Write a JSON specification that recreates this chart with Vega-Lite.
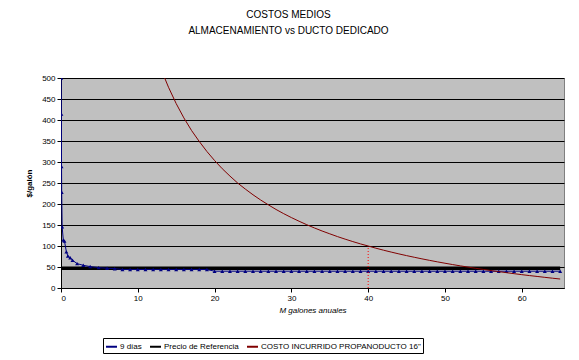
{
  "$schema": "https://vega.github.io/schema/vega-lite/v6.json",
  "autosize": "none",
  "width": 503,
  "height": 210,
  "padding": {"left": 61, "top": 78, "right": 15, "bottom": 72},
  "background": "white",
  "title": {
    "text": ["COSTOS MEDIOS", "ALMACENAMIENTO vs DUCTO DEDICADO"],
    "font": "Liberation Sans",
    "fontSize": 10,
    "fontWeight": "normal",
    "lineHeight": 16,
    "offset": 38,
    "dx": -24,
    "color": "black"
  },
  "config": {
    "view": {"fill": "#c0c0c0", "stroke": "#808080", "strokeWidth": 1},
    "axis": {
      "labelFont": "Liberation Sans",
      "labelFontSize": 8,
      "labelColor": "black",
      "titleFont": "Liberation Sans",
      "titleColor": "black",
      "domainColor": "black",
      "tickColor": "black",
      "tickSize": 4
    },
    "legend": {
      "labelFont": "Liberation Sans",
      "labelFontSize": 8,
      "labelColor": "black"
    }
  },
  "data": {
    "values": [
      {"serie": "Precio de Referencia", "x": 0, "y": 47},
      {"serie": "Precio de Referencia", "x": 65, "y": 47},

      {"serie": "9 días", "x": 0.02, "y": 500},
      {"serie": "9 días", "x": 0.05, "y": 414},
      {"serie": "9 días", "x": 0.07, "y": 289},
      {"serie": "9 días", "x": 0.09, "y": 228},
      {"serie": "9 días", "x": 0.15, "y": 146},
      {"serie": "9 días", "x": 0.3, "y": 114},
      {"serie": "9 días", "x": 0.45, "y": 112},
      {"serie": "9 días", "x": 0.7, "y": 86},
      {"serie": "9 días", "x": 0.9, "y": 76},
      {"serie": "9 días", "x": 1.2, "y": 72},
      {"serie": "9 días", "x": 1.5, "y": 66},
      {"serie": "9 días", "x": 2.1, "y": 58},
      {"serie": "9 días", "x": 2.9, "y": 54},
      {"serie": "9 días", "x": 3.8, "y": 51},
      {"serie": "9 días", "x": 4.9, "y": 48.5},
      {"serie": "9 días", "x": 6, "y": 47},
      {"serie": "9 días", "x": 7, "y": 46},
      {"serie": "9 días", "x": 8, "y": 44},
      {"serie": "9 días", "x": 9, "y": 44},
      {"serie": "9 días", "x": 10, "y": 44},
      {"serie": "9 días", "x": 11, "y": 44},
      {"serie": "9 días", "x": 12, "y": 44},
      {"serie": "9 días", "x": 13, "y": 44},
      {"serie": "9 días", "x": 14, "y": 44},
      {"serie": "9 días", "x": 15, "y": 44},
      {"serie": "9 días", "x": 16, "y": 44},
      {"serie": "9 días", "x": 17, "y": 44},
      {"serie": "9 días", "x": 18, "y": 44},
      {"serie": "9 días", "x": 19, "y": 44},
      {"serie": "9 días", "x": 20, "y": 40},
      {"serie": "9 días", "x": 21, "y": 40},
      {"serie": "9 días", "x": 22, "y": 40},
      {"serie": "9 días", "x": 23, "y": 40},
      {"serie": "9 días", "x": 24, "y": 40},
      {"serie": "9 días", "x": 25, "y": 40},
      {"serie": "9 días", "x": 26, "y": 40},
      {"serie": "9 días", "x": 27, "y": 40},
      {"serie": "9 días", "x": 28, "y": 40},
      {"serie": "9 días", "x": 29, "y": 40},
      {"serie": "9 días", "x": 30, "y": 40},
      {"serie": "9 días", "x": 31, "y": 40},
      {"serie": "9 días", "x": 32, "y": 40},
      {"serie": "9 días", "x": 33, "y": 40},
      {"serie": "9 días", "x": 34, "y": 40},
      {"serie": "9 días", "x": 35, "y": 40},
      {"serie": "9 días", "x": 36, "y": 40},
      {"serie": "9 días", "x": 37, "y": 40},
      {"serie": "9 días", "x": 38, "y": 40},
      {"serie": "9 días", "x": 39, "y": 40},
      {"serie": "9 días", "x": 40, "y": 40},
      {"serie": "9 días", "x": 41, "y": 40},
      {"serie": "9 días", "x": 42, "y": 40},
      {"serie": "9 días", "x": 43, "y": 40},
      {"serie": "9 días", "x": 44, "y": 40},
      {"serie": "9 días", "x": 45, "y": 40},
      {"serie": "9 días", "x": 46, "y": 40},
      {"serie": "9 días", "x": 47, "y": 40},
      {"serie": "9 días", "x": 48, "y": 40},
      {"serie": "9 días", "x": 49, "y": 40},
      {"serie": "9 días", "x": 50, "y": 40},
      {"serie": "9 días", "x": 51, "y": 40},
      {"serie": "9 días", "x": 52, "y": 40},
      {"serie": "9 días", "x": 53, "y": 40},
      {"serie": "9 días", "x": 54, "y": 40},
      {"serie": "9 días", "x": 55, "y": 40},
      {"serie": "9 días", "x": 56, "y": 40},
      {"serie": "9 días", "x": 57, "y": 40},
      {"serie": "9 días", "x": 58, "y": 40},
      {"serie": "9 días", "x": 59, "y": 40},
      {"serie": "9 días", "x": 60, "y": 40},
      {"serie": "9 días", "x": 61, "y": 40},
      {"serie": "9 días", "x": 62, "y": 40},
      {"serie": "9 días", "x": 63, "y": 40},
      {"serie": "9 días", "x": 64, "y": 40},
      {"serie": "9 días", "x": 65, "y": 40},

      {"serie": "COSTO INCURRIDO PROPANODUCTO 16\"", "x": 13.5, "y": 500},
      {"serie": "COSTO INCURRIDO PROPANODUCTO 16\"", "x": 14, "y": 478},
      {"serie": "COSTO INCURRIDO PROPANODUCTO 16\"", "x": 15, "y": 439},
      {"serie": "COSTO INCURRIDO PROPANODUCTO 16\"", "x": 16, "y": 405},
      {"serie": "COSTO INCURRIDO PROPANODUCTO 16\"", "x": 17, "y": 375},
      {"serie": "COSTO INCURRIDO PROPANODUCTO 16\"", "x": 18, "y": 349},
      {"serie": "COSTO INCURRIDO PROPANODUCTO 16\"", "x": 19, "y": 325},
      {"serie": "COSTO INCURRIDO PROPANODUCTO 16\"", "x": 20, "y": 303.5},
      {"serie": "COSTO INCURRIDO PROPANODUCTO 16\"", "x": 21, "y": 284},
      {"serie": "COSTO INCURRIDO PROPANODUCTO 16\"", "x": 22, "y": 266.5},
      {"serie": "COSTO INCURRIDO PROPANODUCTO 16\"", "x": 23, "y": 250},
      {"serie": "COSTO INCURRIDO PROPANODUCTO 16\"", "x": 24, "y": 235.6},
      {"serie": "COSTO INCURRIDO PROPANODUCTO 16\"", "x": 25, "y": 222},
      {"serie": "COSTO INCURRIDO PROPANODUCTO 16\"", "x": 26, "y": 209.5},
      {"serie": "COSTO INCURRIDO PROPANODUCTO 16\"", "x": 27, "y": 198},
      {"serie": "COSTO INCURRIDO PROPANODUCTO 16\"", "x": 28, "y": 187},
      {"serie": "COSTO INCURRIDO PROPANODUCTO 16\"", "x": 29, "y": 177},
      {"serie": "COSTO INCURRIDO PROPANODUCTO 16\"", "x": 30, "y": 167.7},
      {"serie": "COSTO INCURRIDO PROPANODUCTO 16\"", "x": 31, "y": 159},
      {"serie": "COSTO INCURRIDO PROPANODUCTO 16\"", "x": 32, "y": 150.7},
      {"serie": "COSTO INCURRIDO PROPANODUCTO 16\"", "x": 33, "y": 143},
      {"serie": "COSTO INCURRIDO PROPANODUCTO 16\"", "x": 34, "y": 135.7},
      {"serie": "COSTO INCURRIDO PROPANODUCTO 16\"", "x": 35, "y": 129},
      {"serie": "COSTO INCURRIDO PROPANODUCTO 16\"", "x": 36, "y": 122.4},
      {"serie": "COSTO INCURRIDO PROPANODUCTO 16\"", "x": 37, "y": 116.3},
      {"serie": "COSTO INCURRIDO PROPANODUCTO 16\"", "x": 38, "y": 110.5},
      {"serie": "COSTO INCURRIDO PROPANODUCTO 16\"", "x": 39, "y": 105},
      {"serie": "COSTO INCURRIDO PROPANODUCTO 16\"", "x": 40, "y": 100},
      {"serie": "COSTO INCURRIDO PROPANODUCTO 16\"", "x": 41, "y": 94.8},
      {"serie": "COSTO INCURRIDO PROPANODUCTO 16\"", "x": 42, "y": 90},
      {"serie": "COSTO INCURRIDO PROPANODUCTO 16\"", "x": 43, "y": 85.5},
      {"serie": "COSTO INCURRIDO PROPANODUCTO 16\"", "x": 44, "y": 81.2},
      {"serie": "COSTO INCURRIDO PROPANODUCTO 16\"", "x": 45, "y": 77.1},
      {"serie": "COSTO INCURRIDO PROPANODUCTO 16\"", "x": 46, "y": 73.2},
      {"serie": "COSTO INCURRIDO PROPANODUCTO 16\"", "x": 47, "y": 69.4},
      {"serie": "COSTO INCURRIDO PROPANODUCTO 16\"", "x": 48, "y": 65.8},
      {"serie": "COSTO INCURRIDO PROPANODUCTO 16\"", "x": 49, "y": 62.3},
      {"serie": "COSTO INCURRIDO PROPANODUCTO 16\"", "x": 50, "y": 59},
      {"serie": "COSTO INCURRIDO PROPANODUCTO 16\"", "x": 51, "y": 55.8},
      {"serie": "COSTO INCURRIDO PROPANODUCTO 16\"", "x": 52, "y": 52.7},
      {"serie": "COSTO INCURRIDO PROPANODUCTO 16\"", "x": 53, "y": 49.8},
      {"serie": "COSTO INCURRIDO PROPANODUCTO 16\"", "x": 54, "y": 46.9},
      {"serie": "COSTO INCURRIDO PROPANODUCTO 16\"", "x": 55, "y": 44.2},
      {"serie": "COSTO INCURRIDO PROPANODUCTO 16\"", "x": 56, "y": 41.5},
      {"serie": "COSTO INCURRIDO PROPANODUCTO 16\"", "x": 57, "y": 39},
      {"serie": "COSTO INCURRIDO PROPANODUCTO 16\"", "x": 58, "y": 36.5},
      {"serie": "COSTO INCURRIDO PROPANODUCTO 16\"", "x": 59, "y": 34.1},
      {"serie": "COSTO INCURRIDO PROPANODUCTO 16\"", "x": 60, "y": 31.8},
      {"serie": "COSTO INCURRIDO PROPANODUCTO 16\"", "x": 61, "y": 29.6},
      {"serie": "COSTO INCURRIDO PROPANODUCTO 16\"", "x": 62, "y": 27.5},
      {"serie": "COSTO INCURRIDO PROPANODUCTO 16\"", "x": 63, "y": 25.4},
      {"serie": "COSTO INCURRIDO PROPANODUCTO 16\"", "x": 64, "y": 23.3},
      {"serie": "COSTO INCURRIDO PROPANODUCTO 16\"", "x": 65, "y": 21.4}
    ]
  },
  "encoding": {
    "x": {
      "field": "x",
      "type": "quantitative",
      "scale": {"domain": [0, 65.5], "nice": false, "zero": false},
      "axis": {
        "values": [0, 10, 20, 30, 40, 50, 60],
        "grid": false,
        "title": "M galones anuales",
        "titleFontSize": 8,
        "titleFontWeight": "normal",
        "titleFontStyle": "italic",
        "titlePadding": 4,
        "labelPadding": 2
      }
    },
    "y": {
      "field": "y",
      "type": "quantitative",
      "scale": {"domain": [0, 500], "nice": false},
      "axis": {
        "values": [0, 50, 100, 150, 200, 250, 300, 350, 400, 450, 500],
        "grid": true,
        "gridColor": "black",
        "gridOpacity": 1,
        "gridWidth": 1,
        "title": "$/galón",
        "titleFontSize": 8,
        "titleFontWeight": "bold",
        "titlePadding": 8,
        "labelPadding": 2
      }
    },
    "color": {
      "field": "serie",
      "type": "nominal",
      "scale": {
        "domain": ["9 días", "Precio de Referencia", "COSTO INCURRIDO PROPANODUCTO 16\""],
        "range": ["#000080", "#000000", "#800000"]
      },
      "legend": {
        "title": null,
        "orient": "none",
        "legendX": 42,
        "legendY": 260,
        "direction": "horizontal",
        "symbolType": "stroke",
        "symbolSize": 120,
        "symbolStrokeWidth": 2,
        "strokeColor": "black",
        "fillColor": "white",
        "padding": 2,
        "labelLimit": 300,
        "columnPadding": 4,
        "labelOffset": 2
      }
    }
  },
  "layer": [
    {
      "transform": [{"filter": "datum.serie === 'Precio de Referencia'"}],
      "mark": {"type": "line", "strokeWidth": 3.5, "clip": true}
    },
    {
      "transform": [{"filter": "datum.serie === '9 días'"}],
      "mark": {
        "type": "line",
        "strokeWidth": 1,
        "clip": true,
        "point": {"shape": "triangle-up", "size": 16, "filled": true, "color": "#000080"}
      }
    },
    {
      "transform": [{"filter": "datum.serie === 'COSTO INCURRIDO PROPANODUCTO 16\"'"}],
      "mark": {"type": "line", "strokeWidth": 1, "clip": true}
    },
    {
      "data": {"values": [{"x": 40, "y": 0, "y2": 100}]},
      "mark": {"type": "rule", "color": "#ff0000", "strokeDash": [1, 2], "strokeWidth": 1},
      "encoding": {
        "x": {"field": "x", "type": "quantitative"},
        "y": {"field": "y", "type": "quantitative"},
        "y2": {"field": "y2"},
        "color": null
      }
    }
  ]
}
